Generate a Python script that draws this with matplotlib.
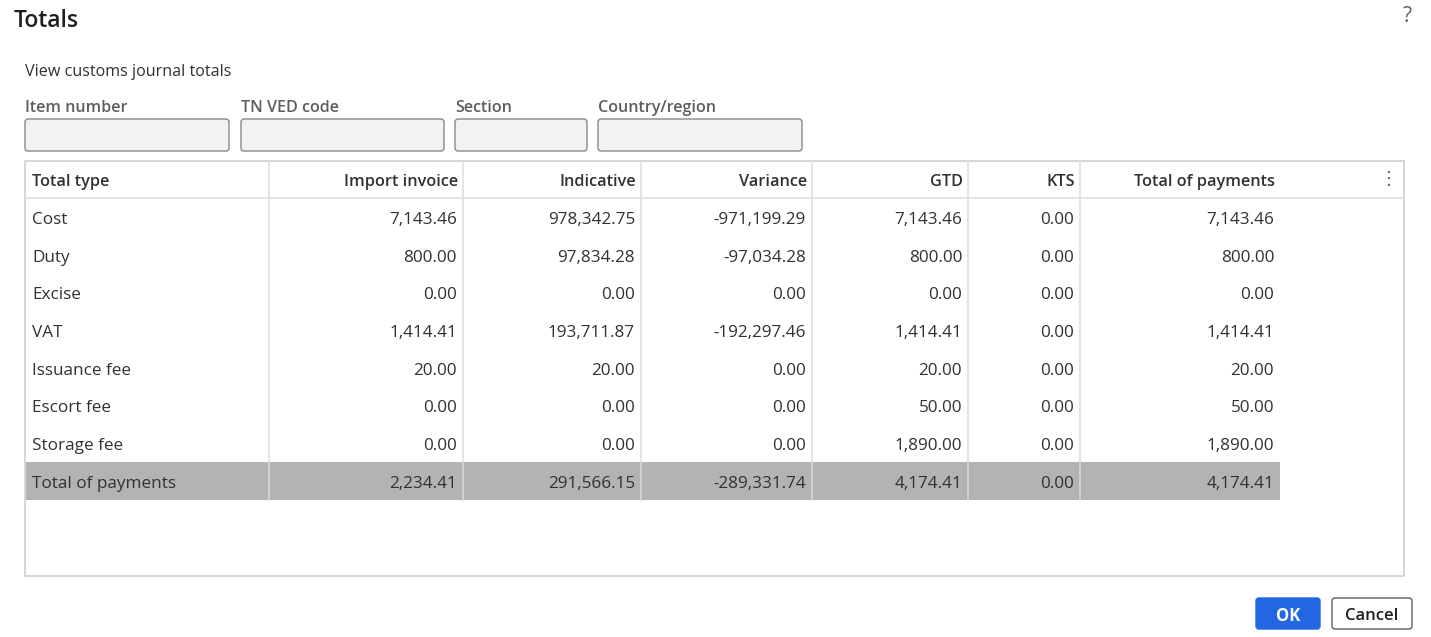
import matplotlib.pyplot as plt
from matplotlib.patches import FancyBboxPatch, Rectangle

plt.rcParams['font.family'] = ['Open Sans', 'Noto Sans', 'DejaVu Sans']

# table data
columns = ['Total type', 'Import invoice', 'Indicative', 'Variance', 'GTD', 'KTS', 'Total of payments']
total_types = ['Cost', 'Duty', 'Excise', 'VAT', 'Issuance fee', 'Escort fee', 'Storage fee', 'Total of payments']
import_invoice = [7143.46, 800.00, 0.00, 1414.41, 20.00, 0.00, 0.00, 2234.41]
indicative = [978342.75, 97834.28, 0.00, 193711.87, 20.00, 0.00, 0.00, 291566.15]
variance = [-971199.29, -97034.28, 0.00, -192297.46, 0.00, 0.00, 0.00, -289331.74]
gtd = [7143.46, 800.00, 0.00, 1414.41, 20.00, 50.00, 1890.00, 4174.41]
kts = [0.00, 0.00, 0.00, 0.00, 0.00, 0.00, 0.00, 0.00]
total_payments = [7143.46, 800.00, 0.00, 1414.41, 20.00, 50.00, 1890.00, 4174.41]

filter_labels = ['Item number', 'TN VED code', 'Section', 'Country/region']

W, H = 1431, 637
fig = plt.figure(figsize=(W / 100, H / 100), dpi=100)
ax = fig.add_axes([0, 0, 1, 1])
ax.set_xlim(0, W)
ax.set_ylim(H, 0)
ax.axis('off')

txt = '#323130'
line = '#e1dfdd'
semi = 600

# header of the dialog
ax.text(14, 18, 'Totals', fontsize=16.5, weight=semi, color='#201f1e', va='center_baseline')
ax.text(1407, 14, '?', fontsize=15, color='#605e5c', va='center_baseline', ha='center')
ax.text(25, 70, 'View customs journal totals', fontsize=11.6, color=txt, va='center_baseline')

# filter fields
box_x = [(25, 229), (241, 444), (455, 587), (598, 802)]
for lab, (x0, x1) in zip(filter_labels, box_x):
    ax.text(x0, 106, lab, fontsize=11.6, weight=semi, color='#605e5c', va='center_baseline')
    ax.add_patch(FancyBboxPatch((x0, 119), x1 - x0, 32,
                                boxstyle='round,pad=0,rounding_size=3',
                                fc='#f3f2f1', ec='#8a8886', lw=1))

# table frame
tx0, tx1, ty0, ty1 = 25, 1404, 161, 576
ax.add_patch(Rectangle((tx0, ty0), tx1 - tx0, ty1 - ty0, fc='white', ec='#d2d0ce', lw=1.2))

edges = [25, 269, 463, 641, 812, 968, 1080, 1280]
head_h = 37
row_h = 37.7
row_top = ty0 + head_h

# total row highlight
n = len(total_types)
ax.add_patch(Rectangle((edges[0] + 1, row_top + (n - 1) * row_h), edges[-1] - edges[0] - 1, row_h,
                       fc='#b3b3b3', ec='none'))

# grid lines
ax.plot([tx0, tx1], [row_top, row_top], color=line, lw=1.2)
for x in edges[1:-1]:
    ax.plot([x, x], [ty0, row_top + (n - 1) * row_h], color=line, lw=1.2)
    ax.plot([x, x], [row_top + (n - 1) * row_h, row_top + n * row_h], color='#d8d8d8', lw=1.2)

# column headers
fs = 12.3
hs = 11.7
ax.text(edges[0] + 7, ty0 + head_h / 2 + 1, columns[0], fontsize=hs, weight=semi,
        color=txt, va='center_baseline')
for i, c in enumerate(columns[1:], start=1):
    ax.text(edges[i + 1] - 5, ty0 + head_h / 2 + 1, c, fontsize=hs, weight=semi,
            color=txt, va='center_baseline', ha='right')
ax.text(1389, ty0 + head_h / 2, '\u22ee', fontsize=13, color='#605e5c', va='center', ha='center',
        family=['DejaVu Sans'])

# rows
series = [import_invoice, indicative, variance, gtd, kts, total_payments]
for r, name in enumerate(total_types):
    yc = row_top + (r + 0.5) * row_h + 1
    ax.text(edges[0] + 7, yc, name, fontsize=fs, color=txt, va='center_baseline')
    for i, vals in enumerate(series, start=1):
        ax.text(edges[i + 1] - 6, yc, f'{vals[r]:,.2f}', fontsize=fs, color=txt,
                va='center_baseline', ha='right')

# buttons
ax.add_patch(FancyBboxPatch((1256, 598), 64, 31, boxstyle='round,pad=0,rounding_size=3',
                            fc='#2266e3', ec='#2266e3', lw=1))
ax.text(1288, 614, 'OK', fontsize=12, weight='bold', color='white', va='center_baseline', ha='center')
ax.add_patch(FancyBboxPatch((1332, 598), 80, 31, boxstyle='round,pad=0,rounding_size=3',
                            fc='white', ec='#605e5c', lw=1))
ax.text(1372, 614, 'Cancel', fontsize=12, weight=semi, color='#201f1e', va='center_baseline', ha='center')

fig.savefig('out.png', dpi=100)
